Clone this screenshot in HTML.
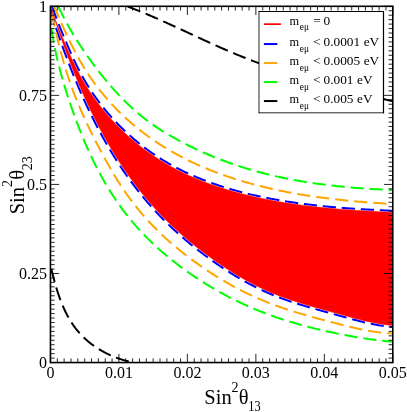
<!DOCTYPE html>
<html><head><meta charset="utf-8"><style>html,body{margin:0;padding:0;background:#fff}body{width:407px;height:412px;overflow:hidden;position:relative}</style></head>
<body><svg width="407" height="412" viewBox="0 0 407 412" style="position:absolute;left:0;top:0;will-change:transform"><defs><clipPath id="c"><rect x="50.45" y="6.3" width="342.35" height="356.25"/></clipPath></defs><rect width="100%" height="100%" fill="#fff"/><g clip-path="url(#c)" fill="none" stroke-width="2"><path d="M51.92,5.81 L52.27,6.84 L52.63,7.86 L52.99,8.88 L53.35,9.90 L53.72,10.92 L54.08,11.94 L54.45,12.96 L54.83,13.98 L55.20,14.99 L55.58,16.01 L55.96,17.02 L56.34,18.04 L56.73,19.05 L57.12,20.06 L57.51,21.07 L57.90,22.09 L58.29,23.10 L58.69,24.10 L59.09,25.11 L59.49,26.12 L59.89,27.13 L60.30,28.13 L60.70,29.14 L61.11,30.15 L61.52,31.15 L61.93,32.15 L62.34,33.16 L62.76,34.16 L63.17,35.16 L63.59,36.16 L64.01,37.17 L64.43,38.17 L64.85,39.17 L65.28,40.17 L65.70,41.17 L66.13,42.17 L66.55,43.16 L66.98,44.16 L67.41,45.16 L67.84,46.16 L68.27,47.15 L68.70,48.15 L69.13,49.14 L69.57,50.14 L70.01,51.13 L70.44,52.12 L70.88,53.11 L71.33,54.10 L71.77,55.09 L72.22,56.08 L72.67,57.06 L73.12,58.05 L73.57,59.03 L74.03,60.01 L74.49,60.99 L74.96,61.97 L75.42,62.95 L75.89,63.92 L76.36,64.90 L76.84,65.87 L77.32,66.84 L77.80,67.80 L78.29,68.77 L78.78,69.73 L79.28,70.69 L79.78,71.65 L80.28,72.61 L80.79,73.56 L81.30,74.51 L81.82,75.46 L82.34,76.40 L82.87,77.35 L83.40,78.29 L83.94,79.23 L84.48,80.16 L85.02,81.09 L85.57,82.02 L86.13,82.95 L86.68,83.87 L87.25,84.80 L87.82,85.71 L88.39,86.63 L88.96,87.54 L89.55,88.45 L90.13,89.36 L90.72,90.27 L91.32,91.17 L91.91,92.07 L92.52,92.96 L93.12,93.86 L93.74,94.75 L94.35,95.64 L94.97,96.52 L95.60,97.40 L96.22,98.28 L96.86,99.16 L97.49,100.03 L98.14,100.90 L98.78,101.76 L99.43,102.63 L100.08,103.49 L100.74,104.34 L101.40,105.20 L102.07,106.05 L102.74,106.90 L103.41,107.74 L104.09,108.58 L104.77,109.42 L105.46,110.25 L106.15,111.09 L106.84,111.91 L107.54,112.74 L108.24,113.56 L108.94,114.38 L109.65,115.19 L110.37,116.01 L111.08,116.81 L111.80,117.62 L112.53,118.42 L113.26,119.22 L113.99,120.01 L114.72,120.80 L115.46,121.59 L116.21,122.38 L116.95,123.16 L117.70,123.93 L118.46,124.71 L119.22,125.48 L119.98,126.25 L120.74,127.01 L121.51,127.77 L122.28,128.52 L123.06,129.28 L123.84,130.02 L124.62,130.77 L125.41,131.51 L126.19,132.25 L126.99,132.98 L127.78,133.71 L128.58,134.44 L129.39,135.16 L130.19,135.88 L131.00,136.60 L131.82,137.31 L132.63,138.01 L133.45,138.72 L134.28,139.42 L135.10,140.11 L135.93,140.81 L136.76,141.49 L137.60,142.18 L138.44,142.86 L139.28,143.53 L140.13,144.21 L140.98,144.88 L141.83,145.54 L142.68,146.20 L143.54,146.86 L144.40,147.51 L145.27,148.16 L146.13,148.80 L147.00,149.44 L147.88,150.08 L148.75,150.71 L149.63,151.34 L150.51,151.96 L151.40,152.58 L152.29,153.20 L153.18,153.81 L154.07,154.42 L154.97,155.02 L155.87,155.62 L156.77,156.21 L157.68,156.80 L158.58,157.39 L159.49,157.97 L160.41,158.54 L161.32,159.12 L162.24,159.69 L163.16,160.25 L164.09,160.81 L165.01,161.36 L165.94,161.91 L166.88,162.46 L167.81,163.00 L168.75,163.54 L169.69,164.07 L170.63,164.60 L171.57,165.13 L172.52,165.65 L173.47,166.16 L174.42,166.67 L175.38,167.18 L176.33,167.69 L177.29,168.18 L178.25,168.68 L179.22,169.17 L180.18,169.66 L181.15,170.14 L182.12,170.62 L183.09,171.09 L184.06,171.56 L185.04,172.03 L186.02,172.49 L186.99,172.95 L187.98,173.40 L188.96,173.85 L189.94,174.30 L190.93,174.74 L191.92,175.18 L192.91,175.61 L193.90,176.04 L194.90,176.47 L195.89,176.89 L196.89,177.31 L197.89,177.73 L198.89,178.14 L199.89,178.54 L200.89,178.95 L201.90,179.35 L202.91,179.74 L203.91,180.14 L204.92,180.53 L205.94,180.91 L206.95,181.29 L207.96,181.67 L208.98,182.05 L209.99,182.42 L211.01,182.78 L212.03,183.15 L213.05,183.51 L214.07,183.87 L215.10,184.22 L216.12,184.57 L217.15,184.92 L218.17,185.26 L219.20,185.60 L220.23,185.94 L221.26,186.27 L222.29,186.60 L223.32,186.93 L224.35,187.25 L225.39,187.57 L226.42,187.89 L227.46,188.21 L228.50,188.52 L229.54,188.83 L230.57,189.13 L231.61,189.43 L232.66,189.73 L233.70,190.03 L234.74,190.32 L235.78,190.61 L236.83,190.90 L237.87,191.18 L238.92,191.46 L239.97,191.74 L241.01,192.02 L242.06,192.29 L243.11,192.56 L244.16,192.83 L245.21,193.09 L246.26,193.35 L247.32,193.61 L248.37,193.87 L249.42,194.12 L250.48,194.37 L251.53,194.62 L252.59,194.86 L253.64,195.11 L254.70,195.35 L255.76,195.58 L256.82,195.82 L257.87,196.05 L258.93,196.28 L259.99,196.51 L261.05,196.74 L262.11,196.96 L263.18,197.18 L264.24,197.40 L265.30,197.61 L266.36,197.82 L267.43,198.04 L268.49,198.24 L269.55,198.45 L270.62,198.65 L271.68,198.86 L272.75,199.06 L273.82,199.25 L274.88,199.45 L275.95,199.64 L277.02,199.83 L278.09,200.02 L279.15,200.21 L280.22,200.39 L281.29,200.57 L282.36,200.75 L283.43,200.93 L284.50,201.10 L285.57,201.28 L286.64,201.45 L287.71,201.62 L288.79,201.79 L289.86,201.95 L290.93,202.11 L292.00,202.27 L293.07,202.43 L294.15,202.59 L295.22,202.75 L296.30,202.90 L297.37,203.05 L298.44,203.20 L299.52,203.35 L300.59,203.49 L301.67,203.64 L302.74,203.78 L303.82,203.92 L304.90,204.06 L305.97,204.20 L307.05,204.33 L308.13,204.46 L309.20,204.60 L310.28,204.73 L311.36,204.85 L312.43,204.98 L313.51,205.10 L314.59,205.23 L315.67,205.35 L316.75,205.47 L317.83,205.59 L318.91,205.70 L319.98,205.82 L321.06,205.93 L322.14,206.04 L323.22,206.15 L324.30,206.26 L325.38,206.37 L326.46,206.47 L327.54,206.58 L328.62,206.68 L329.70,206.78 L330.79,206.88 L331.87,206.98 L332.95,207.08 L334.03,207.17 L335.11,207.27 L336.19,207.36 L337.27,207.45 L338.36,207.54 L339.44,207.63 L340.52,207.72 L341.60,207.81 L342.68,207.89 L343.77,207.98 L344.85,208.06 L345.93,208.14 L347.01,208.22 L348.10,208.30 L349.18,208.38 L350.26,208.46 L351.35,208.53 L352.43,208.61 L353.51,208.68 L354.60,208.76 L355.68,208.83 L356.76,208.90 L357.85,208.97 L358.93,209.04 L360.02,209.11 L361.10,209.17 L362.18,209.24 L363.27,209.31 L364.35,209.37 L365.44,209.43 L366.52,209.50 L367.61,209.56 L368.69,209.62 L369.78,209.68 L370.86,209.74 L371.94,209.80 L373.03,209.86 L374.11,209.92 L375.20,209.97 L376.28,210.03 L377.37,210.08 L378.45,210.14 L379.54,210.19 L380.63,210.25 L381.71,210.30 L382.80,210.35 L383.88,210.41 L384.97,210.46 L386.05,210.51 L387.14,210.56 L388.22,210.61 L389.31,210.66 L390.39,210.71 L391.48,210.75 L392.57,210.80" stroke="#00f" stroke-dasharray="13.2 5.84" stroke-dashoffset="-0.41" /><path d="M49.07,6.76 L49.45,7.95 L49.83,9.14 L50.22,10.34 L50.60,11.53 L50.99,12.73 L51.37,13.92 L51.76,15.11 L52.15,16.30 L52.54,17.50 L52.93,18.69 L53.32,19.88 L53.71,21.07 L54.11,22.26 L54.51,23.45 L54.90,24.64 L55.30,25.83 L55.70,27.02 L56.10,28.21 L56.51,29.40 L56.91,30.58 L57.32,31.77 L57.73,32.96 L58.13,34.14 L58.55,35.33 L58.96,36.51 L59.37,37.70 L59.79,38.88 L60.20,40.07 L60.62,41.25 L61.04,42.43 L61.46,43.61 L61.88,44.79 L62.31,45.98 L62.74,47.16 L63.16,48.33 L63.59,49.51 L64.02,50.69 L64.46,51.87 L64.89,53.05 L65.33,54.22 L65.77,55.40 L66.21,56.58 L66.65,57.75 L67.09,58.92 L67.54,60.10 L67.99,61.27 L68.43,62.44 L68.89,63.61 L69.34,64.78 L69.79,65.95 L70.25,67.12 L70.71,68.29 L71.17,69.46 L71.63,70.63 L72.10,71.79 L72.56,72.96 L73.03,74.12 L73.50,75.28 L73.98,76.45 L74.45,77.61 L74.93,78.77 L75.41,79.93 L75.89,81.09 L76.37,82.25 L76.86,83.41 L77.35,84.56 L77.84,85.72 L78.33,86.88 L78.82,88.03 L79.32,89.18 L79.82,90.33 L80.32,91.49 L80.82,92.64 L81.33,93.79 L81.84,94.93 L82.35,96.08 L82.86,97.23 L83.38,98.37 L83.89,99.52 L84.41,100.66 L84.94,101.80 L85.46,102.94 L85.99,104.08 L86.52,105.22 L87.05,106.36 L87.59,107.50 L88.12,108.63 L88.66,109.76 L89.21,110.90 L89.75,112.03 L90.30,113.16 L90.85,114.29 L91.40,115.42 L91.96,116.54 L92.52,117.67 L93.08,118.79 L93.64,119.92 L94.21,121.04 L94.78,122.16 L95.35,123.28 L95.92,124.39 L96.50,125.51 L97.08,126.62 L97.66,127.74 L98.25,128.85 L98.84,129.96 L99.43,131.07 L100.02,132.17 L100.62,133.28 L101.22,134.38 L101.82,135.49 L102.43,136.59 L103.04,137.69 L103.65,138.79 L104.27,139.88 L104.88,140.98 L105.50,142.07 L106.13,143.16 L106.75,144.25 L107.38,145.34 L108.02,146.42 L108.65,147.51 L109.29,148.59 L109.94,149.67 L110.58,150.75 L111.23,151.83 L111.88,152.90 L112.54,153.97 L113.19,155.04 L113.85,156.11 L114.52,157.18 L115.19,158.25 L115.86,159.31 L116.53,160.37 L117.21,161.43 L117.89,162.49 L118.57,163.54 L119.26,164.60 L119.95,165.65 L120.65,166.69 L121.34,167.74 L122.04,168.79 L122.75,169.83 L123.45,170.87 L124.17,171.91 L124.88,172.94 L125.60,173.97 L126.32,175.00 L127.04,176.03 L127.77,177.06 L128.50,178.08 L129.24,179.10 L129.97,180.12 L130.72,181.14 L131.46,182.15 L132.21,183.16 L132.96,184.17 L133.72,185.17 L134.48,186.18 L135.24,187.18 L136.00,188.18 L136.77,189.17 L137.55,190.16 L138.32,191.15 L139.10,192.14 L139.89,193.12 L140.68,194.11 L141.47,195.08 L142.26,196.06 L143.06,197.03 L143.86,198.00 L144.67,198.97 L145.48,199.93 L146.29,200.89 L147.11,201.85 L147.93,202.80 L148.75,203.76 L149.58,204.70 L150.41,205.65 L151.24,206.59 L152.08,207.53 L152.92,208.47 L153.77,209.40 L154.62,210.33 L155.47,211.25 L156.32,212.18 L157.18,213.10 L158.05,214.01 L158.91,214.92 L159.78,215.83 L160.66,216.74 L161.54,217.64 L162.42,218.54 L163.30,219.43 L164.19,220.33 L165.08,221.21 L165.98,222.10 L166.87,222.98 L167.77,223.86 L168.68,224.73 L169.59,225.61 L170.50,226.47 L171.41,227.34 L172.33,228.20 L173.25,229.06 L174.17,229.91 L175.10,230.76 L176.03,231.61 L176.96,232.46 L177.89,233.30 L178.83,234.14 L179.77,234.97 L180.72,235.80 L181.66,236.63 L182.61,237.46 L183.56,238.28 L184.52,239.10 L185.48,239.91 L186.44,240.72 L187.40,241.53 L188.37,242.34 L189.33,243.14 L190.31,243.94 L191.28,244.74 L192.26,245.53 L193.23,246.32 L194.22,247.11 L195.20,247.89 L196.19,248.67 L197.18,249.45 L198.17,250.22 L199.16,250.99 L200.16,251.76 L201.15,252.52 L202.16,253.28 L203.16,254.04 L204.16,254.79 L205.17,255.55 L206.18,256.29 L207.20,257.04 L208.21,257.78 L209.23,258.52 L210.25,259.26 L211.27,259.99 L212.29,260.72 L213.32,261.45 L214.35,262.17 L215.38,262.89 L216.41,263.61 L217.44,264.32 L218.48,265.03 L219.52,265.74 L220.56,266.45 L221.61,267.15 L222.65,267.85 L223.70,268.54 L224.75,269.23 L225.81,269.92 L226.86,270.60 L227.92,271.28 L228.98,271.96 L230.05,272.63 L231.11,273.30 L232.18,273.96 L233.25,274.62 L234.33,275.28 L235.40,275.93 L236.48,276.58 L237.56,277.22 L238.65,277.86 L239.73,278.50 L240.82,279.13 L241.91,279.75 L243.01,280.38 L244.11,280.99 L245.21,281.61 L246.31,282.21 L247.41,282.82 L248.52,283.42 L249.63,284.01 L250.75,284.60 L251.86,285.18 L252.98,285.76 L254.10,286.33 L255.23,286.90 L256.35,287.46 L257.48,288.02 L258.62,288.57 L259.75,289.12 L260.89,289.66 L262.03,290.20 L263.17,290.73 L264.32,291.25 L265.47,291.77 L266.62,292.29 L267.77,292.79 L268.93,293.30 L270.09,293.79 L271.25,294.28 L272.41,294.76 L273.58,295.24 L274.75,295.71 L275.92,296.18 L277.09,296.64 L278.27,297.09 L279.44,297.54 L280.62,297.98 L281.80,298.42 L282.99,298.85 L284.17,299.28 L285.36,299.70 L286.55,300.12 L287.73,300.53 L288.93,300.94 L290.12,301.34 L291.31,301.74 L292.50,302.13 L293.70,302.53 L294.90,302.91 L296.09,303.30 L297.29,303.67 L298.49,304.05 L299.69,304.42 L300.89,304.79 L302.09,305.16 L303.30,305.52 L304.50,305.88 L305.70,306.24 L306.91,306.60 L308.11,306.95 L309.32,307.30 L310.52,307.65 L311.73,308.00 L312.94,308.34 L314.14,308.68 L315.35,309.02 L316.56,309.36 L317.77,309.70 L318.98,310.04 L320.18,310.37 L321.39,310.71 L322.60,311.04 L323.81,311.38 L325.02,311.71 L326.22,312.04 L327.43,312.37 L328.64,312.71 L329.85,313.04 L331.06,313.37 L332.26,313.70 L333.47,314.04 L334.68,314.37 L335.88,314.70 L337.09,315.04 L338.30,315.37 L339.50,315.71 L340.71,316.04 L341.92,316.38 L343.12,316.72 L344.33,317.05 L345.54,317.39 L346.75,317.72 L347.96,318.05 L349.17,318.39 L350.38,318.72 L351.59,319.04 L352.80,319.37 L354.02,319.69 L355.23,320.01 L356.45,320.33 L357.67,320.65 L358.88,320.96 L360.10,321.26 L361.32,321.56 L362.55,321.86 L363.77,322.16 L365.00,322.44 L366.22,322.73 L367.45,323.00 L368.68,323.28 L369.92,323.54 L371.15,323.80 L372.38,324.05 L373.62,324.30 L374.86,324.54 L376.10,324.77 L377.34,324.99 L378.59,325.21 L379.83,325.42 L381.08,325.62 L382.33,325.81 L383.58,325.99 L384.83,326.16 L386.08,326.33 L387.34,326.48 L388.60,326.62 L389.85,326.76 L391.11,326.88 L392.37,326.99" stroke="#00f" stroke-dasharray="13.2 5.86" stroke-dashoffset="-3.16" /><path d="M54.20,6.60 L55.04,8.54 L55.87,10.47 L56.71,12.41 L57.55,14.34 L58.39,16.27 L59.24,18.21 L60.08,20.14 L60.93,22.07 L61.79,24.00 L62.65,25.92 L63.51,27.84 L64.38,29.76 L65.26,31.68 L66.14,33.60 L67.03,35.51 L67.93,37.42 L68.84,39.32 L69.75,41.22 L70.68,43.12 L71.61,45.01 L72.56,46.89 L73.51,48.77 L74.48,50.65 L75.46,52.51 L76.45,54.37 L77.45,56.23 L78.47,58.08 L79.50,59.92 L80.54,61.75 L81.60,63.57 L82.68,65.39 L83.77,67.19 L84.87,68.99 L85.99,70.77 L87.13,72.55 L88.28,74.32 L89.46,76.07 L90.64,77.81 L91.85,79.54 L93.07,81.26 L94.30,82.97 L95.56,84.67 L96.82,86.35 L98.11,88.03 L99.40,89.69 L100.72,91.34 L102.05,92.98 L103.39,94.60 L104.75,96.22 L106.12,97.82 L107.50,99.41 L108.90,100.99 L110.31,102.55 L111.74,104.10 L113.18,105.65 L114.63,107.17 L116.10,108.69 L117.58,110.19 L119.07,111.68 L120.57,113.16 L122.09,114.63 L123.62,116.08 L125.16,117.52 L126.72,118.94 L128.28,120.35 L129.86,121.75 L131.45,123.14 L133.05,124.51 L134.66,125.87 L136.29,127.21 L137.92,128.54 L139.57,129.86 L141.23,131.16 L142.90,132.45 L144.58,133.72 L146.27,134.98 L147.97,136.23 L149.68,137.46 L151.41,138.68 L153.14,139.88 L154.88,141.07 L156.63,142.24 L158.39,143.40 L160.16,144.55 L161.94,145.68 L163.73,146.80 L165.53,147.90 L167.33,148.99 L169.15,150.07 L170.97,151.13 L172.80,152.18 L174.64,153.21 L176.48,154.23 L178.33,155.24 L180.19,156.23 L182.06,157.21 L183.94,158.18 L185.82,159.13 L187.71,160.07 L189.60,160.99 L191.50,161.91 L193.41,162.81 L195.32,163.69 L197.24,164.56 L199.17,165.43 L201.10,166.27 L203.03,167.11 L204.98,167.93 L206.92,168.74 L208.88,169.54 L210.83,170.32 L212.79,171.10 L214.76,171.86 L216.73,172.61 L218.71,173.34 L220.69,174.07 L222.67,174.78 L224.66,175.49 L226.65,176.18 L228.65,176.86 L230.65,177.53 L232.65,178.18 L234.66,178.83 L236.67,179.47 L238.68,180.09 L240.70,180.70 L242.72,181.31 L244.75,181.90 L246.77,182.49 L248.80,183.06 L250.83,183.62 L252.87,184.17 L254.91,184.72 L256.95,185.25 L258.99,185.77 L261.03,186.29 L263.08,186.79 L265.13,187.29 L267.18,187.77 L269.24,188.25 L271.29,188.72 L273.35,189.18 L275.41,189.63 L277.47,190.07 L279.54,190.50 L281.60,190.93 L283.67,191.35 L285.74,191.75 L287.81,192.15 L289.88,192.55 L291.95,192.93 L294.03,193.31 L296.11,193.68 L298.18,194.04 L300.26,194.39 L302.34,194.74 L304.42,195.08 L306.51,195.41 L308.59,195.73 L310.67,196.05 L312.76,196.36 L314.85,196.67 L316.93,196.96 L319.02,197.25 L321.11,197.54 L323.20,197.82 L325.29,198.09 L327.39,198.35 L329.48,198.61 L331.57,198.87 L333.67,199.11 L335.76,199.35 L337.86,199.59 L339.95,199.82 L342.05,200.05 L344.15,200.26 L346.24,200.48 L348.34,200.69 L350.44,200.89 L352.54,201.09 L354.64,201.28 L356.74,201.47 L358.84,201.65 L360.94,201.83 L363.04,202.00 L365.15,202.17 L367.25,202.34 L369.35,202.50 L371.45,202.65 L373.56,202.81 L375.66,202.95 L377.77,203.10 L379.87,203.24 L381.97,203.37 L384.08,203.51 L386.18,203.64 L388.29,203.76 L390.39,203.88 L392.50,204.00" stroke="#ffa500" stroke-dasharray="13.2 5.92" stroke-dashoffset="1.18" /><path d="M50.70,8.00 L51.22,10.52 L51.74,13.04 L52.27,15.55 L52.81,18.07 L53.35,20.58 L53.90,23.09 L54.45,25.60 L55.01,28.11 L55.58,30.62 L56.16,33.13 L56.75,35.63 L57.34,38.13 L57.95,40.63 L58.56,43.13 L59.19,45.62 L59.82,48.11 L60.47,50.60 L61.13,53.09 L61.80,55.57 L62.48,58.05 L63.18,60.52 L63.89,62.99 L64.61,65.46 L65.35,67.92 L66.10,70.38 L66.86,72.84 L67.65,75.29 L68.44,77.73 L69.26,80.17 L70.09,82.60 L70.94,85.03 L71.80,87.45 L72.69,89.87 L73.59,92.28 L74.51,94.68 L75.44,97.07 L76.39,99.46 L77.36,101.84 L78.34,104.22 L79.34,106.59 L80.35,108.95 L81.38,111.31 L82.42,113.66 L83.47,116.01 L84.53,118.35 L85.61,120.68 L86.70,123.01 L87.80,125.34 L88.91,127.65 L90.04,129.97 L91.17,132.28 L92.31,134.58 L93.47,136.88 L94.63,139.17 L95.80,141.46 L96.98,143.75 L98.16,146.03 L99.36,148.30 L100.56,150.58 L101.77,152.85 L102.98,155.11 L104.21,157.37 L105.44,159.63 L106.69,161.88 L107.94,164.12 L109.21,166.36 L110.49,168.59 L111.78,170.82 L113.08,173.03 L114.40,175.24 L115.73,177.44 L117.08,179.63 L118.44,181.81 L119.82,183.98 L121.22,186.14 L122.63,188.28 L124.07,190.42 L125.52,192.54 L126.99,194.65 L128.48,196.75 L129.99,198.83 L131.52,200.89 L133.08,202.94 L134.65,204.97 L136.25,206.99 L137.86,208.99 L139.50,210.97 L141.16,212.94 L142.84,214.89 L144.53,216.82 L146.25,218.73 L147.98,220.63 L149.73,222.52 L151.50,224.38 L153.29,226.23 L155.09,228.06 L156.91,229.88 L158.74,231.68 L160.60,233.47 L162.46,235.23 L164.35,236.99 L166.24,238.72 L168.15,240.44 L170.08,242.14 L172.02,243.83 L173.97,245.50 L175.94,247.16 L177.92,248.80 L179.91,250.43 L181.91,252.04 L183.93,253.63 L185.96,255.22 L188.00,256.78 L190.05,258.33 L192.11,259.87 L194.18,261.39 L196.27,262.90 L198.36,264.39 L200.46,265.87 L202.58,267.33 L204.70,268.78 L206.83,270.22 L208.98,271.64 L211.13,273.05 L213.29,274.44 L215.46,275.82 L217.64,277.18 L219.83,278.53 L222.03,279.86 L224.24,281.17 L226.46,282.47 L228.69,283.74 L230.93,285.01 L233.18,286.25 L235.44,287.48 L237.71,288.69 L239.99,289.88 L242.28,291.05 L244.58,292.20 L246.89,293.33 L249.21,294.44 L251.54,295.53 L253.87,296.61 L256.22,297.66 L258.58,298.69 L260.94,299.69 L263.32,300.68 L265.70,301.65 L268.09,302.59 L270.49,303.52 L272.89,304.43 L275.31,305.32 L277.72,306.19 L280.15,307.05 L282.58,307.89 L285.02,308.71 L287.46,309.52 L289.90,310.31 L292.35,311.09 L294.81,311.86 L297.26,312.62 L299.72,313.36 L302.19,314.09 L304.66,314.81 L307.13,315.53 L309.60,316.23 L312.08,316.92 L314.56,317.61 L317.04,318.29 L319.52,318.96 L322.00,319.62 L324.49,320.29 L326.97,320.94 L329.46,321.59 L331.95,322.24 L334.44,322.89 L336.93,323.53 L339.42,324.17 L341.91,324.81 L344.40,325.44 L346.89,326.06 L349.39,326.68 L351.89,327.28 L354.39,327.87 L356.90,328.44 L359.41,328.99 L361.93,329.52 L364.45,330.02 L366.98,330.50 L369.51,330.95 L372.04,331.38 L374.59,331.77 L377.13,332.12 L379.68,332.44 L382.24,332.72 L384.80,332.95 L387.36,333.15 L389.93,333.30 L392.50,333.40" stroke="#ffa500" stroke-dasharray="13.2 6.06" stroke-dashoffset="-5.7" /><path d="M58.30,6.60 L59.18,8.43 L60.08,10.26 L60.98,12.08 L61.90,13.89 L62.83,15.70 L63.77,17.50 L64.72,19.30 L65.68,21.09 L66.65,22.88 L67.63,24.65 L68.63,26.43 L69.64,28.19 L70.65,29.95 L71.68,31.71 L72.71,33.46 L73.76,35.20 L74.82,36.94 L75.89,38.67 L76.96,40.39 L78.05,42.11 L79.15,43.82 L80.25,45.53 L81.37,47.23 L82.49,48.92 L83.63,50.61 L84.77,52.29 L85.92,53.96 L87.08,55.63 L88.25,57.29 L89.43,58.95 L90.62,60.60 L91.82,62.24 L93.02,63.88 L94.23,65.51 L95.46,67.14 L96.68,68.75 L97.92,70.37 L99.17,71.97 L100.42,73.57 L101.69,75.16 L102.96,76.75 L104.24,78.33 L105.53,79.90 L106.83,81.46 L108.14,83.01 L109.46,84.56 L110.79,86.10 L112.13,87.62 L113.49,89.14 L114.85,90.65 L116.22,92.15 L117.60,93.64 L118.99,95.12 L120.40,96.59 L121.81,98.05 L123.24,99.50 L124.68,100.94 L126.13,102.36 L127.59,103.78 L129.06,105.18 L130.55,106.57 L132.04,107.94 L133.55,109.31 L135.07,110.65 L136.60,111.99 L138.15,113.31 L139.71,114.62 L141.27,115.91 L142.86,117.19 L144.45,118.45 L146.06,119.70 L147.68,120.92 L149.31,122.14 L150.95,123.33 L152.61,124.51 L154.27,125.67 L155.95,126.82 L157.64,127.95 L159.35,129.06 L161.06,130.16 L162.78,131.24 L164.51,132.31 L166.25,133.36 L167.99,134.40 L169.75,135.43 L171.51,136.45 L173.28,137.45 L175.05,138.44 L176.83,139.42 L178.62,140.39 L180.41,141.35 L182.21,142.30 L184.01,143.23 L185.82,144.16 L187.64,145.08 L189.46,145.98 L191.28,146.88 L193.11,147.76 L194.95,148.64 L196.79,149.50 L198.63,150.35 L200.48,151.20 L202.34,152.03 L204.19,152.85 L206.06,153.66 L207.93,154.47 L209.80,155.26 L211.67,156.04 L213.56,156.81 L215.44,157.57 L217.33,158.33 L219.22,159.07 L221.12,159.80 L223.02,160.52 L224.92,161.23 L226.83,161.93 L228.74,162.62 L230.66,163.30 L232.58,163.97 L234.50,164.63 L236.43,165.28 L238.36,165.92 L240.29,166.55 L242.23,167.17 L244.16,167.78 L246.11,168.38 L248.05,168.97 L250.00,169.55 L251.95,170.12 L253.91,170.67 L255.87,171.22 L257.83,171.76 L259.79,172.29 L261.75,172.81 L263.72,173.32 L265.69,173.82 L267.66,174.31 L269.64,174.79 L271.62,175.26 L273.60,175.73 L275.58,176.18 L277.56,176.62 L279.55,177.06 L281.53,177.48 L283.52,177.90 L285.52,178.31 L287.51,178.71 L289.50,179.10 L291.50,179.49 L293.50,179.86 L295.50,180.23 L297.50,180.59 L299.50,180.94 L301.50,181.28 L303.51,181.62 L305.51,181.94 L307.52,182.26 L309.53,182.58 L311.54,182.88 L313.55,183.18 L315.56,183.47 L317.58,183.75 L319.59,184.03 L321.61,184.30 L323.62,184.56 L325.64,184.81 L327.66,185.06 L329.67,185.30 L331.69,185.54 L333.71,185.77 L335.73,185.99 L337.76,186.21 L339.78,186.42 L341.80,186.62 L343.82,186.82 L345.85,187.01 L347.87,187.20 L349.90,187.38 L351.92,187.55 L353.95,187.72 L355.97,187.89 L358.00,188.04 L360.03,188.20 L362.05,188.35 L364.08,188.49 L366.11,188.63 L368.14,188.76 L370.17,188.89 L372.20,189.01 L374.23,189.13 L376.26,189.24 L378.28,189.35 L380.32,189.46 L382.35,189.56 L384.38,189.66 L386.41,189.75 L388.44,189.84 L390.47,189.92 L392.50,190.00" stroke="#0f0" stroke-dasharray="13.2 5.88" stroke-dashoffset="0.03" /><path d="M50.60,20.00 L50.88,22.57 L51.18,25.13 L51.50,27.70 L51.85,30.26 L52.22,32.82 L52.61,35.37 L53.02,37.92 L53.46,40.47 L53.92,43.01 L54.39,45.55 L54.89,48.08 L55.40,50.62 L55.94,53.14 L56.49,55.67 L57.07,58.19 L57.65,60.70 L58.26,63.21 L58.89,65.72 L59.53,68.22 L60.18,70.72 L60.85,73.22 L61.54,75.71 L62.24,78.20 L62.96,80.68 L63.68,83.16 L64.43,85.63 L65.18,88.10 L65.95,90.57 L66.72,93.03 L67.51,95.49 L68.31,97.95 L69.12,100.40 L69.94,102.85 L70.77,105.30 L71.61,107.75 L72.46,110.19 L73.32,112.62 L74.19,115.05 L75.07,117.48 L75.97,119.91 L76.87,122.33 L77.79,124.74 L78.71,127.15 L79.65,129.56 L80.61,131.96 L81.57,134.36 L82.55,136.75 L83.54,139.14 L84.55,141.52 L85.57,143.89 L86.60,146.26 L87.65,148.62 L88.71,150.98 L89.78,153.32 L90.88,155.67 L91.98,158.00 L93.11,160.33 L94.24,162.65 L95.40,164.96 L96.57,167.26 L97.76,169.56 L98.96,171.84 L100.18,174.12 L101.42,176.39 L102.68,178.64 L103.95,180.89 L105.25,183.13 L106.56,185.35 L107.89,187.57 L109.23,189.77 L110.60,191.97 L111.99,194.15 L113.39,196.31 L114.82,198.47 L116.26,200.61 L117.73,202.74 L119.21,204.85 L120.72,206.95 L122.24,209.04 L123.79,211.11 L125.35,213.17 L126.94,215.20 L128.55,217.23 L130.18,219.23 L131.83,221.22 L133.50,223.19 L135.19,225.15 L136.90,227.08 L138.63,229.00 L140.37,230.90 L142.14,232.79 L143.93,234.66 L145.73,236.51 L147.55,238.34 L149.39,240.16 L151.24,241.96 L153.11,243.74 L155.00,245.51 L156.90,247.26 L158.81,248.99 L160.75,250.70 L162.69,252.40 L164.66,254.08 L166.63,255.75 L168.62,257.40 L170.62,259.03 L172.64,260.64 L174.67,262.24 L176.71,263.82 L178.77,265.39 L180.83,266.94 L182.91,268.47 L185.00,269.99 L187.11,271.49 L189.22,272.98 L191.35,274.45 L193.48,275.90 L195.63,277.34 L197.78,278.76 L199.95,280.17 L202.13,281.56 L204.31,282.94 L206.51,284.30 L208.72,285.64 L210.93,286.97 L213.16,288.29 L215.39,289.58 L217.64,290.86 L219.89,292.13 L222.15,293.38 L224.42,294.61 L226.70,295.83 L228.99,297.02 L231.29,298.21 L233.59,299.37 L235.91,300.52 L238.23,301.65 L240.56,302.76 L242.90,303.86 L245.25,304.94 L247.61,306.00 L249.97,307.04 L252.34,308.07 L254.72,309.07 L257.11,310.06 L259.50,311.03 L261.90,311.99 L264.31,312.92 L266.73,313.84 L269.15,314.74 L271.58,315.62 L274.01,316.49 L276.45,317.34 L278.90,318.17 L281.35,318.98 L283.81,319.79 L286.27,320.57 L288.73,321.34 L291.21,322.09 L293.68,322.83 L296.16,323.56 L298.65,324.27 L301.13,324.96 L303.63,325.64 L306.12,326.31 L308.62,326.97 L311.12,327.61 L313.63,328.24 L316.14,328.85 L318.65,329.46 L321.17,330.05 L323.68,330.63 L326.20,331.19 L328.73,331.75 L331.25,332.30 L333.78,332.83 L336.31,333.36 L338.84,333.87 L341.38,334.37 L343.91,334.87 L346.45,335.35 L348.99,335.82 L351.53,336.28 L354.08,336.72 L356.63,337.16 L359.18,337.58 L361.73,337.98 L364.28,338.38 L366.84,338.76 L369.39,339.12 L371.95,339.47 L374.51,339.81 L377.08,340.13 L379.64,340.43 L382.21,340.72 L384.78,340.99 L387.35,341.24 L389.93,341.48 L392.50,341.70" stroke="#0f0" stroke-dasharray="13.2 5.82" stroke-dashoffset="-9.27" /><path d="M50.50,6.30 L50.85,7.33 L51.21,8.35 L51.57,9.38 L51.94,10.41 L52.30,11.43 L52.67,12.45 L53.05,13.47 L53.42,14.49 L53.80,15.51 L54.18,16.53 L54.56,17.55 L54.94,18.57 L55.33,19.59 L55.72,20.60 L56.11,21.62 L56.50,22.63 L56.90,23.64 L57.30,24.65 L57.70,25.67 L58.10,26.68 L58.50,27.69 L58.91,28.70 L59.31,29.70 L59.72,30.71 L60.13,31.72 L60.54,32.72 L60.96,33.73 L61.37,34.73 L61.79,35.74 L62.21,36.74 L62.63,37.75 L63.05,38.75 L63.47,39.75 L63.89,40.75 L64.32,41.75 L64.75,42.75 L65.17,43.75 L65.60,44.75 L66.03,45.75 L66.46,46.75 L66.89,47.75 L67.32,48.75 L67.76,49.74 L68.20,50.74 L68.63,51.73 L69.07,52.73 L69.51,53.72 L69.96,54.72 L70.40,55.71 L70.85,56.70 L71.30,57.69 L71.76,58.68 L72.21,59.66 L72.67,60.65 L73.14,61.63 L73.60,62.62 L74.07,63.60 L74.54,64.58 L75.02,65.55 L75.49,66.53 L75.98,67.51 L76.46,68.48 L76.95,69.45 L77.45,70.42 L77.95,71.38 L78.45,72.35 L78.96,73.31 L79.47,74.27 L79.98,75.23 L80.51,76.18 L81.03,77.13 L81.56,78.08 L82.10,79.03 L82.64,79.97 L83.18,80.91 L83.73,81.85 L84.28,82.79 L84.84,83.72 L85.40,84.65 L85.97,85.58 L86.54,86.51 L87.12,87.43 L87.70,88.35 L88.28,89.26 L88.87,90.18 L89.47,91.09 L90.06,92.00 L90.67,92.90 L91.27,93.80 L91.89,94.70 L92.50,95.60 L93.12,96.49 L93.75,97.38 L94.37,98.27 L95.01,99.16 L95.64,100.04 L96.28,100.92 L96.93,101.79 L97.58,102.66 L98.23,103.53 L98.89,104.40 L99.55,105.26 L100.22,106.12 L100.89,106.98 L101.56,107.83 L102.24,108.68 L102.92,109.53 L103.61,110.37 L104.30,111.21 L104.99,112.05 L105.69,112.88 L106.39,113.71 L107.10,114.54 L107.81,115.36 L108.52,116.18 L109.24,117.00 L109.96,117.81 L110.69,118.62 L111.42,119.43 L112.15,120.23 L112.89,121.03 L113.63,121.83 L114.37,122.62 L115.12,123.41 L115.87,124.20 L116.63,124.98 L117.39,125.76 L118.15,126.53 L118.92,127.30 L119.68,128.07 L120.46,128.84 L121.24,129.60 L122.02,130.35 L122.80,131.11 L123.59,131.86 L124.38,132.60 L125.17,133.35 L125.97,134.09 L126.77,134.82 L127.58,135.55 L128.39,136.28 L129.20,137.00 L130.01,137.72 L130.83,138.44 L131.65,139.15 L132.48,139.86 L133.31,140.56 L134.14,141.26 L134.97,141.96 L135.81,142.65 L136.65,143.34 L137.50,144.03 L138.35,144.71 L139.20,145.38 L140.05,146.06 L140.91,146.73 L141.77,147.39 L142.63,148.05 L143.50,148.71 L144.37,149.36 L145.24,150.01 L146.12,150.65 L147.00,151.29 L147.88,151.93 L148.76,152.56 L149.65,153.19 L150.54,153.81 L151.44,154.43 L152.33,155.05 L153.23,155.66 L154.13,156.26 L155.04,156.87 L155.95,157.47 L156.86,158.06 L157.77,158.65 L158.69,159.23 L159.61,159.81 L160.53,160.39 L161.46,160.96 L162.38,161.53 L163.31,162.09 L164.25,162.65 L165.18,163.21 L166.12,163.76 L167.06,164.30 L168.00,164.84 L168.95,165.38 L169.90,165.91 L170.85,166.44 L171.80,166.96 L172.76,167.48 L173.71,168.00 L174.67,168.51 L175.64,169.01 L176.60,169.52 L177.57,170.01 L178.54,170.51 L179.51,171.00 L180.48,171.48 L181.46,171.96 L182.43,172.44 L183.41,172.91 L184.39,173.38 L185.38,173.85 L186.36,174.31 L187.35,174.76 L188.34,175.22 L189.33,175.67 L190.32,176.11 L191.32,176.55 L192.31,176.99 L193.31,177.42 L194.31,177.85 L195.31,178.27 L196.31,178.69 L197.32,179.11 L198.32,179.53 L199.33,179.93 L200.34,180.34 L201.35,180.74 L202.36,181.14 L203.37,181.54 L204.39,181.93 L205.40,182.31 L206.42,182.70 L207.44,183.08 L208.46,183.45 L209.48,183.83 L210.50,184.20 L211.53,184.56 L212.55,184.92 L213.58,185.28 L214.61,185.64 L215.64,185.99 L216.67,186.34 L217.70,186.68 L218.73,187.03 L219.76,187.37 L220.80,187.70 L221.83,188.03 L222.87,188.36 L223.91,188.69 L224.95,189.01 L225.99,189.33 L227.03,189.64 L228.07,189.96 L229.11,190.26 L230.15,190.57 L231.20,190.87 L232.24,191.17 L233.29,191.47 L234.34,191.77 L235.38,192.06 L236.43,192.35 L237.48,192.63 L238.53,192.91 L239.58,193.19 L240.63,193.47 L241.69,193.74 L242.74,194.01 L243.79,194.28 L244.85,194.55 L245.90,194.81 L246.96,195.07 L248.02,195.33 L249.07,195.58 L250.13,195.83 L251.19,196.08 L252.25,196.33 L253.31,196.57 L254.37,196.81 L255.43,197.05 L256.49,197.28 L257.55,197.52 L258.62,197.75 L259.68,197.98 L260.74,198.20 L261.81,198.43 L262.87,198.65 L263.94,198.87 L265.00,199.08 L266.07,199.30 L267.14,199.51 L268.20,199.72 L269.27,199.92 L270.34,200.13 L271.41,200.33 L272.48,200.53 L273.55,200.73 L274.62,200.92 L275.69,201.12 L276.76,201.31 L277.83,201.50 L278.90,201.68 L279.97,201.87 L281.04,202.05 L282.11,202.23 L283.19,202.41 L284.26,202.58 L285.33,202.76 L286.41,202.93 L287.48,203.10 L288.56,203.27 L289.63,203.43 L290.70,203.60 L291.78,203.76 L292.86,203.92 L293.93,204.08 L295.01,204.23 L296.08,204.39 L297.16,204.54 L298.24,204.69 L299.32,204.84 L300.39,204.98 L301.47,205.13 L302.55,205.27 L303.63,205.41 L304.71,205.55 L305.78,205.68 L306.86,205.82 L307.94,205.95 L309.02,206.08 L310.10,206.21 L311.18,206.34 L312.26,206.47 L313.34,206.59 L314.42,206.72 L315.50,206.84 L316.58,206.96 L317.66,207.08 L318.75,207.19 L319.83,207.31 L320.91,207.42 L321.99,207.53 L323.07,207.64 L324.15,207.75 L325.24,207.86 L326.32,207.97 L327.40,208.07 L328.48,208.17 L329.57,208.27 L330.65,208.37 L331.73,208.47 L332.81,208.57 L333.90,208.67 L334.98,208.76 L336.06,208.85 L337.15,208.95 L338.23,209.04 L339.32,209.13 L340.40,209.21 L341.48,209.30 L342.57,209.39 L343.65,209.47 L344.74,209.55 L345.82,209.64 L346.90,209.72 L347.99,209.80 L349.07,209.88 L350.16,209.95 L351.24,210.03 L352.33,210.11 L353.41,210.18 L354.50,210.25 L355.58,210.32 L356.67,210.40 L357.75,210.47 L358.84,210.54 L359.92,210.60 L361.01,210.67 L362.09,210.74 L363.18,210.80 L364.26,210.87 L365.35,210.93 L366.44,211.00 L367.52,211.06 L368.61,211.12 L369.69,211.18 L370.78,211.24 L371.86,211.30 L372.95,211.36 L374.04,211.41 L375.12,211.47 L376.21,211.53 L377.29,211.58 L378.38,211.64 L379.47,211.69 L380.55,211.75 L381.64,211.80 L382.72,211.85 L383.81,211.90 L384.90,211.95 L385.98,212.01 L387.07,212.06 L388.15,212.11 L389.24,212.15 L390.33,212.20 L391.41,212.25 L392.50,212.30 L392.50,325.50 L391.25,325.39 L390.01,325.27 L388.76,325.13 L387.52,324.99 L386.27,324.84 L385.03,324.68 L383.79,324.51 L382.55,324.32 L381.31,324.14 L380.07,323.94 L378.84,323.73 L377.60,323.52 L376.37,323.30 L375.14,323.07 L373.91,322.83 L372.68,322.58 L371.45,322.33 L370.23,322.08 L369.00,321.81 L367.78,321.54 L366.56,321.26 L365.34,320.98 L364.12,320.70 L362.90,320.40 L361.68,320.11 L360.47,319.81 L359.25,319.50 L358.04,319.19 L356.82,318.88 L355.61,318.56 L354.40,318.24 L353.19,317.92 L351.98,317.60 L350.77,317.27 L349.56,316.94 L348.36,316.61 L347.15,316.28 L345.94,315.94 L344.73,315.61 L343.53,315.27 L342.32,314.93 L341.11,314.60 L339.91,314.26 L338.70,313.93 L337.49,313.59 L336.28,313.26 L335.08,312.92 L333.87,312.59 L332.66,312.26 L331.45,311.92 L330.25,311.59 L329.04,311.26 L327.83,310.93 L326.62,310.60 L325.41,310.26 L324.21,309.93 L323.00,309.60 L321.79,309.26 L320.58,308.93 L319.38,308.59 L318.17,308.26 L316.97,307.92 L315.76,307.58 L314.55,307.24 L313.35,306.90 L312.14,306.55 L310.94,306.21 L309.74,305.86 L308.53,305.51 L307.33,305.16 L306.13,304.80 L304.93,304.45 L303.73,304.09 L302.53,303.72 L301.33,303.36 L300.13,302.99 L298.94,302.62 L297.74,302.24 L296.55,301.87 L295.36,301.48 L294.16,301.10 L292.97,300.71 L291.78,300.32 L290.60,299.92 L289.41,299.52 L288.22,299.11 L287.04,298.70 L285.86,298.29 L284.68,297.87 L283.50,297.44 L282.32,297.01 L281.15,296.58 L279.97,296.14 L278.80,295.69 L277.64,295.24 L276.47,294.78 L275.30,294.32 L274.14,293.85 L272.98,293.38 L271.83,292.90 L270.67,292.41 L269.52,291.92 L268.37,291.42 L267.22,290.91 L266.08,290.40 L264.94,289.89 L263.80,289.37 L262.66,288.84 L261.53,288.31 L260.40,287.77 L259.27,287.22 L258.14,286.68 L257.02,286.12 L255.90,285.56 L254.78,285.00 L253.67,284.43 L252.55,283.85 L251.44,283.27 L250.34,282.68 L249.23,282.09 L248.13,281.50 L247.03,280.90 L245.93,280.29 L244.84,279.68 L243.75,279.07 L242.66,278.45 L241.57,277.83 L240.49,277.20 L239.41,276.57 L238.33,275.93 L237.25,275.29 L236.18,274.65 L235.11,274.00 L234.04,273.34 L232.97,272.69 L231.91,272.02 L230.84,271.36 L229.79,270.69 L228.73,270.02 L227.68,269.34 L226.62,268.66 L225.57,267.98 L224.53,267.29 L223.48,266.60 L222.44,265.90 L221.40,265.20 L220.36,264.50 L219.33,263.80 L218.29,263.09 L217.26,262.38 L216.23,261.66 L215.21,260.94 L214.18,260.22 L213.16,259.50 L212.14,258.77 L211.12,258.04 L210.11,257.31 L209.09,256.57 L208.08,255.83 L207.07,255.09 L206.07,254.34 L205.06,253.59 L204.06,252.84 L203.06,252.09 L202.06,251.33 L201.07,250.57 L200.08,249.80 L199.09,249.04 L198.10,248.26 L197.11,247.49 L196.13,246.71 L195.15,245.93 L194.17,245.15 L193.20,244.36 L192.23,243.57 L191.26,242.78 L190.29,241.98 L189.33,241.19 L188.36,240.38 L187.40,239.58 L186.45,238.77 L185.49,237.96 L184.54,237.14 L183.59,236.32 L182.65,235.50 L181.71,234.68 L180.77,233.85 L179.83,233.02 L178.89,232.18 L177.96,231.34 L177.04,230.50 L176.11,229.66 L175.19,228.81 L174.27,227.96 L173.35,227.10 L172.44,226.25 L171.53,225.39 L170.62,224.52 L169.72,223.65 L168.82,222.78 L167.92,221.91 L167.03,221.03 L166.14,220.15 L165.25,219.26 L164.37,218.38 L163.49,217.49 L162.61,216.59 L161.74,215.69 L160.87,214.79 L160.00,213.89 L159.14,212.98 L158.28,212.07 L157.42,211.15 L156.57,210.24 L155.72,209.31 L154.88,208.39 L154.03,207.46 L153.20,206.53 L152.36,205.60 L151.53,204.66 L150.70,203.72 L149.88,202.77 L149.06,201.83 L148.25,200.87 L147.43,199.92 L146.62,198.97 L145.82,198.01 L145.02,197.04 L144.22,196.08 L143.42,195.11 L142.63,194.14 L141.84,193.16 L141.06,192.19 L140.28,191.21 L139.50,190.22 L138.73,189.24 L137.96,188.25 L137.19,187.26 L136.43,186.27 L135.67,185.27 L134.91,184.27 L134.16,183.27 L133.41,182.27 L132.67,181.26 L131.93,180.25 L131.19,179.24 L130.45,178.22 L129.72,177.21 L128.99,176.19 L128.27,175.17 L127.55,174.14 L126.83,173.12 L126.11,172.09 L125.40,171.06 L124.69,170.02 L123.99,168.99 L123.29,167.95 L122.59,166.91 L121.90,165.87 L121.20,164.82 L120.52,163.77 L119.83,162.72 L119.15,161.67 L118.47,160.62 L117.80,159.56 L117.13,158.51 L116.46,157.45 L115.79,156.39 L115.13,155.32 L114.47,154.26 L113.81,153.19 L113.16,152.12 L112.51,151.05 L111.87,149.98 L111.22,148.90 L110.58,147.82 L109.95,146.75 L109.31,145.67 L108.68,144.58 L108.05,143.50 L107.43,142.41 L106.81,141.33 L106.19,140.24 L105.57,139.15 L104.96,138.05 L104.35,136.96 L103.74,135.86 L103.14,134.77 L102.54,133.67 L101.94,132.57 L101.34,131.46 L100.75,130.36 L100.16,129.25 L99.58,128.15 L98.99,127.04 L98.41,125.93 L97.83,124.82 L97.26,123.71 L96.68,122.59 L96.11,121.48 L95.55,120.36 L94.98,119.24 L94.42,118.12 L93.86,117.00 L93.30,115.88 L92.75,114.76 L92.20,113.63 L91.65,112.50 L91.10,111.38 L90.56,110.25 L90.02,109.12 L89.48,107.99 L88.94,106.86 L88.41,105.72 L87.88,104.59 L87.35,103.45 L86.82,102.31 L86.30,101.18 L85.78,100.04 L85.26,98.90 L84.74,97.76 L84.23,96.61 L83.72,95.47 L83.21,94.33 L82.70,93.18 L82.20,92.03 L81.70,90.89 L81.20,89.74 L80.70,88.59 L80.20,87.44 L79.71,86.29 L79.22,85.13 L78.73,83.98 L78.24,82.83 L77.76,81.67 L77.27,80.51 L76.79,79.36 L76.32,78.20 L75.84,77.04 L75.37,75.88 L74.89,74.72 L74.42,73.56 L73.96,72.40 L73.49,71.23 L73.03,70.07 L72.57,68.91 L72.11,67.74 L71.65,66.58 L71.19,65.41 L70.74,64.24 L70.29,63.07 L69.84,61.90 L69.39,60.73 L68.94,59.56 L68.50,58.39 L68.05,57.22 L67.61,56.05 L67.17,54.87 L66.73,53.70 L66.30,52.53 L65.86,51.35 L65.43,50.18 L65.00,49.00 L64.57,47.82 L64.15,46.64 L63.72,45.47 L63.30,44.29 L62.87,43.11 L62.45,41.93 L62.03,40.75 L61.62,39.57 L61.20,38.39 L60.79,37.20 L60.37,36.02 L59.96,34.84 L59.55,33.65 L59.14,32.47 L58.74,31.28 L58.33,30.10 L57.93,28.91 L57.53,27.73 L57.12,26.54 L56.72,25.35 L56.33,24.17 L55.93,22.98 L55.53,21.79 L55.14,20.60 L54.75,19.41 L54.35,18.22 L53.96,17.03 L53.57,15.84 L53.19,14.65 L52.80,13.46 L52.41,12.27 L52.03,11.07 L51.64,9.88 L51.26,8.69 L50.88,7.49 L50.50,6.30Z" fill="#f00" stroke="#f00" stroke-width="0.5"/><path d="M127.00,6.30 L128.33,6.80 L129.66,7.30 L130.99,7.80 L132.31,8.32 L133.64,8.83 L134.96,9.35 L136.28,9.87 L137.60,10.40 L138.92,10.92 L140.24,11.46 L141.55,11.99 L142.87,12.53 L144.18,13.08 L145.49,13.62 L146.80,14.17 L148.11,14.72 L149.42,15.28 L150.72,15.84 L152.03,16.40 L153.33,16.96 L154.64,17.52 L155.94,18.09 L157.24,18.66 L158.54,19.23 L159.84,19.81 L161.14,20.38 L162.44,20.96 L163.73,21.54 L165.03,22.12 L166.32,22.71 L167.62,23.29 L168.91,23.88 L170.20,24.47 L171.50,25.06 L172.79,25.65 L174.08,26.24 L175.37,26.83 L176.66,27.43 L177.95,28.02 L179.24,28.62 L180.53,29.21 L181.82,29.81 L183.11,30.41 L184.40,31.01 L185.69,31.61 L186.97,32.20 L188.26,32.80 L189.55,33.40 L190.84,34.00 L192.13,34.60 L193.41,35.20 L194.70,35.80 L195.99,36.39 L197.28,36.99 L198.57,37.59 L199.86,38.19 L201.15,38.78 L202.44,39.38 L203.73,39.97 L205.02,40.57 L206.31,41.16 L207.60,41.75 L208.89,42.34 L210.19,42.93 L211.48,43.52 L212.77,44.10 L214.07,44.69 L215.36,45.27 L216.66,45.85 L217.96,46.43 L219.26,47.01 L220.55,47.58 L221.85,48.15 L223.16,48.72 L224.46,49.29 L225.76,49.86 L227.06,50.42 L228.37,50.98 L229.67,51.54 L230.98,52.10 L232.29,52.65 L233.60,53.20 L234.91,53.75 L236.22,54.30 L237.53,54.84 L238.85,55.38 L240.16,55.92 L241.48,56.45 L242.80,56.99 L244.11,57.52 L245.43,58.04 L246.75,58.57 L248.07,59.09 L249.40,59.61 L250.72,60.13 L252.04,60.64 L253.37,61.16 L254.69,61.67 L256.02,62.17 L257.35,62.68 L258.68,63.18 L260.01,63.68 L261.34,64.18 L262.67,64.67 L264.00,65.16 L265.34,65.65 L266.67,66.14 L268.01,66.62 L269.34,67.11 L270.68,67.59 L272.02,68.06 L273.36,68.54 L274.70,69.01 L276.04,69.48 L277.38,69.95 L278.72,70.41 L280.06,70.87 L281.41,71.33 L282.75,71.79 L284.10,72.25 L285.45,72.70 L286.79,73.15 L288.14,73.60 L289.49,74.04 L290.84,74.49 L292.19,74.93 L293.54,75.36 L294.89,75.80 L296.25,76.23 L297.60,76.66 L298.95,77.09 L300.31,77.52 L301.66,77.94 L303.02,78.37 L304.38,78.78 L305.74,79.20 L307.10,79.62 L308.45,80.03 L309.82,80.44 L311.18,80.85 L312.54,81.25 L313.90,81.65 L315.26,82.05 L316.63,82.45 L317.99,82.85 L319.36,83.24 L320.72,83.63 L322.09,84.02 L323.45,84.41 L324.82,84.80 L326.19,85.18 L327.56,85.56 L328.93,85.94 L330.30,86.31 L331.67,86.69 L333.04,87.06 L334.41,87.43 L335.78,87.79 L337.16,88.16 L338.53,88.52 L339.90,88.88 L341.28,89.24 L342.65,89.59 L344.03,89.95 L345.41,90.30 L346.78,90.65 L348.16,91.00 L349.54,91.34 L350.92,91.68 L352.30,92.02 L353.68,92.36 L355.06,92.70 L356.44,93.03 L357.82,93.37 L359.20,93.70 L360.58,94.02 L361.96,94.35 L363.35,94.67 L364.73,95.00 L366.12,95.31 L367.50,95.63 L368.89,95.95 L370.27,96.26 L371.66,96.57 L373.04,96.88 L374.43,97.19 L375.82,97.49 L377.21,97.80 L378.59,98.10 L379.98,98.40 L381.37,98.69 L382.76,98.99 L384.15,99.28 L385.54,99.57 L386.93,99.86 L388.32,100.15 L389.72,100.43 L391.11,100.72 L392.50,101.00" stroke="#000" stroke-dasharray="13.4 5.80" stroke-dashoffset="-0.8" /><path d="M50.70,266.00 L50.85,266.66 L51.00,267.31 L51.15,267.97 L51.30,268.62 L51.45,269.28 L51.61,269.93 L51.76,270.59 L51.92,271.24 L52.07,271.89 L52.23,272.55 L52.39,273.20 L52.55,273.85 L52.71,274.51 L52.87,275.16 L53.03,275.81 L53.20,276.46 L53.36,277.12 L53.53,277.77 L53.70,278.42 L53.87,279.07 L54.04,279.72 L54.22,280.37 L54.39,281.02 L54.57,281.67 L54.74,282.31 L54.92,282.96 L55.10,283.61 L55.29,284.26 L55.47,284.90 L55.66,285.55 L55.85,286.20 L56.04,286.84 L56.23,287.48 L56.42,288.13 L56.62,288.77 L56.82,289.41 L57.02,290.06 L57.22,290.70 L57.42,291.34 L57.63,291.98 L57.84,292.62 L58.05,293.26 L58.26,293.89 L58.47,294.53 L58.69,295.17 L58.91,295.80 L59.13,296.44 L59.36,297.07 L59.58,297.71 L59.81,298.34 L60.05,298.97 L60.28,299.60 L60.52,300.23 L60.76,300.86 L61.00,301.48 L61.25,302.11 L61.49,302.73 L61.74,303.36 L62.00,303.98 L62.26,304.60 L62.51,305.22 L62.78,305.84 L63.04,306.46 L63.31,307.08 L63.58,307.69 L63.86,308.30 L64.14,308.92 L64.42,309.53 L64.70,310.14 L64.99,310.74 L65.28,311.35 L65.58,311.95 L65.87,312.56 L66.17,313.16 L66.48,313.76 L66.79,314.35 L67.10,314.95 L67.42,315.54 L67.73,316.14 L68.06,316.73 L68.38,317.31 L68.71,317.90 L69.05,318.48 L69.39,319.06 L69.73,319.64 L70.07,320.22 L70.42,320.79 L70.78,321.37 L71.14,321.94 L71.50,322.50 L71.86,323.07 L72.23,323.63 L72.61,324.19 L72.99,324.74 L73.37,325.30 L73.75,325.85 L74.15,326.39 L74.54,326.94 L74.94,327.48 L75.34,328.01 L75.75,328.55 L76.16,329.08 L76.58,329.61 L77.00,330.13 L77.43,330.65 L77.86,331.17 L78.29,331.68 L78.73,332.19 L79.18,332.70 L79.62,333.20 L80.07,333.70 L80.53,334.19 L80.99,334.68 L81.45,335.17 L81.92,335.65 L82.39,336.13 L82.87,336.61 L83.35,337.08 L83.83,337.55 L84.32,338.01 L84.81,338.47 L85.30,338.93 L85.80,339.38 L86.30,339.82 L86.81,340.27 L87.32,340.71 L87.83,341.14 L88.34,341.58 L88.86,342.01 L89.38,342.43 L89.91,342.85 L90.44,343.27 L90.97,343.68 L91.50,344.09 L92.04,344.49 L92.58,344.89 L93.12,345.29 L93.67,345.68 L94.22,346.07 L94.77,346.45 L95.32,346.83 L95.88,347.21 L96.44,347.58 L97.01,347.95 L97.57,348.31 L98.14,348.67 L98.71,349.03 L99.28,349.38 L99.86,349.73 L100.43,350.07 L101.02,350.41 L101.60,350.75 L102.18,351.08 L102.77,351.41 L103.36,351.73 L103.95,352.05 L104.54,352.37 L105.14,352.68 L105.74,352.98 L106.34,353.29 L106.94,353.59 L107.54,353.88 L108.15,354.18 L108.76,354.46 L109.37,354.75 L109.98,355.03 L110.59,355.30 L111.21,355.57 L111.82,355.84 L112.44,356.10 L113.06,356.36 L113.68,356.62 L114.31,356.87 L114.93,357.12 L115.56,357.36 L116.19,357.60 L116.82,357.84 L117.45,358.07 L118.08,358.30 L118.72,358.52 L119.35,358.74 L119.99,358.95 L120.63,359.17 L121.27,359.37 L121.91,359.58 L122.55,359.78 L123.19,359.97 L123.84,360.16 L124.48,360.35 L125.13,360.53 L125.78,360.71 L126.43,360.89 L127.08,361.06 L127.73,361.22 L128.38,361.39 L129.04,361.55 L129.69,361.70 L130.34,361.85 L131.00,362.00" stroke="#000" stroke-dasharray="13.4 5.80" stroke-dashoffset="-3" /></g><path d="M50.45,362.55v-8.7M50.45,6.3v8.7M57.30,362.55v-4.2M57.30,6.3v4.2M64.14,362.55v-4.2M64.14,6.3v4.2M70.99,362.55v-4.2M70.99,6.3v4.2M77.84,362.55v-4.2M77.84,6.3v4.2M84.69,362.55v-4.2M84.69,6.3v4.2M91.53,362.55v-4.2M91.53,6.3v4.2M98.38,362.55v-4.2M98.38,6.3v4.2M105.23,362.55v-4.2M105.23,6.3v4.2M112.07,362.55v-4.2M112.07,6.3v4.2M118.92,362.55v-8.7M118.92,6.3v8.7M125.77,362.55v-4.2M125.77,6.3v4.2M132.61,362.55v-4.2M132.61,6.3v4.2M139.46,362.55v-4.2M139.46,6.3v4.2M146.31,362.55v-4.2M146.31,6.3v4.2M153.16,362.55v-4.2M153.16,6.3v4.2M160.00,362.55v-4.2M160.00,6.3v4.2M166.85,362.55v-4.2M166.85,6.3v4.2M173.70,362.55v-4.2M173.70,6.3v4.2M180.54,362.55v-4.2M180.54,6.3v4.2M187.39,362.55v-8.7M187.39,6.3v8.7M194.24,362.55v-4.2M194.24,6.3v4.2M201.08,362.55v-4.2M201.08,6.3v4.2M207.93,362.55v-4.2M207.93,6.3v4.2M214.78,362.55v-4.2M214.78,6.3v4.2M221.62,362.55v-4.2M221.62,6.3v4.2M228.47,362.55v-4.2M228.47,6.3v4.2M235.32,362.55v-4.2M235.32,6.3v4.2M242.17,362.55v-4.2M242.17,6.3v4.2M249.01,362.55v-4.2M249.01,6.3v4.2M255.86,362.55v-8.7M255.86,6.3v8.7M262.71,362.55v-4.2M262.71,6.3v4.2M269.55,362.55v-4.2M269.55,6.3v4.2M276.40,362.55v-4.2M276.40,6.3v4.2M283.25,362.55v-4.2M283.25,6.3v4.2M290.10,362.55v-4.2M290.10,6.3v4.2M296.94,362.55v-4.2M296.94,6.3v4.2M303.79,362.55v-4.2M303.79,6.3v4.2M310.64,362.55v-4.2M310.64,6.3v4.2M317.48,362.55v-4.2M317.48,6.3v4.2M324.33,362.55v-8.7M324.33,6.3v8.7M331.18,362.55v-4.2M331.18,6.3v4.2M338.02,362.55v-4.2M338.02,6.3v4.2M344.87,362.55v-4.2M344.87,6.3v4.2M351.72,362.55v-4.2M351.72,6.3v4.2M358.56,362.55v-4.2M358.56,6.3v4.2M365.41,362.55v-4.2M365.41,6.3v4.2M372.26,362.55v-4.2M372.26,6.3v4.2M379.11,362.55v-4.2M379.11,6.3v4.2M385.95,362.55v-4.2M385.95,6.3v4.2M392.80,362.55v-8.7M392.80,6.3v8.7M50.45,362.55h8.7M392.8,362.55h-8.7M50.45,358.10h4.2M392.8,358.10h-4.2M50.45,353.64h4.2M392.8,353.64h-4.2M50.45,349.19h4.2M392.8,349.19h-4.2M50.45,344.74h4.2M392.8,344.74h-4.2M50.45,340.28h4.2M392.8,340.28h-4.2M50.45,335.83h4.2M392.8,335.83h-4.2M50.45,331.38h4.2M392.8,331.38h-4.2M50.45,326.93h4.2M392.8,326.93h-4.2M50.45,322.47h4.2M392.8,322.47h-4.2M50.45,318.02h4.2M392.8,318.02h-4.2M50.45,313.57h4.2M392.8,313.57h-4.2M50.45,309.11h4.2M392.8,309.11h-4.2M50.45,304.66h4.2M392.8,304.66h-4.2M50.45,300.21h4.2M392.8,300.21h-4.2M50.45,295.75h4.2M392.8,295.75h-4.2M50.45,291.30h4.2M392.8,291.30h-4.2M50.45,286.85h4.2M392.8,286.85h-4.2M50.45,282.39h4.2M392.8,282.39h-4.2M50.45,277.94h4.2M392.8,277.94h-4.2M50.45,273.49h8.7M392.8,273.49h-8.7M50.45,269.03h4.2M392.8,269.03h-4.2M50.45,264.58h4.2M392.8,264.58h-4.2M50.45,260.13h4.2M392.8,260.13h-4.2M50.45,255.68h4.2M392.8,255.68h-4.2M50.45,251.22h4.2M392.8,251.22h-4.2M50.45,246.77h4.2M392.8,246.77h-4.2M50.45,242.32h4.2M392.8,242.32h-4.2M50.45,237.86h4.2M392.8,237.86h-4.2M50.45,233.41h4.2M392.8,233.41h-4.2M50.45,228.96h4.2M392.8,228.96h-4.2M50.45,224.50h4.2M392.8,224.50h-4.2M50.45,220.05h4.2M392.8,220.05h-4.2M50.45,215.60h4.2M392.8,215.60h-4.2M50.45,211.14h4.2M392.8,211.14h-4.2M50.45,206.69h4.2M392.8,206.69h-4.2M50.45,202.24h4.2M392.8,202.24h-4.2M50.45,197.78h4.2M392.8,197.78h-4.2M50.45,193.33h4.2M392.8,193.33h-4.2M50.45,188.88h4.2M392.8,188.88h-4.2M50.45,184.43h8.7M392.8,184.43h-8.7M50.45,179.97h4.2M392.8,179.97h-4.2M50.45,175.52h4.2M392.8,175.52h-4.2M50.45,171.07h4.2M392.8,171.07h-4.2M50.45,166.61h4.2M392.8,166.61h-4.2M50.45,162.16h4.2M392.8,162.16h-4.2M50.45,157.71h4.2M392.8,157.71h-4.2M50.45,153.25h4.2M392.8,153.25h-4.2M50.45,148.80h4.2M392.8,148.80h-4.2M50.45,144.35h4.2M392.8,144.35h-4.2M50.45,139.89h4.2M392.8,139.89h-4.2M50.45,135.44h4.2M392.8,135.44h-4.2M50.45,130.99h4.2M392.8,130.99h-4.2M50.45,126.53h4.2M392.8,126.53h-4.2M50.45,122.08h4.2M392.8,122.08h-4.2M50.45,117.63h4.2M392.8,117.63h-4.2M50.45,113.18h4.2M392.8,113.18h-4.2M50.45,108.72h4.2M392.8,108.72h-4.2M50.45,104.27h4.2M392.8,104.27h-4.2M50.45,99.82h4.2M392.8,99.82h-4.2M50.45,95.36h8.7M392.8,95.36h-8.7M50.45,90.91h4.2M392.8,90.91h-4.2M50.45,86.46h4.2M392.8,86.46h-4.2M50.45,82.00h4.2M392.8,82.00h-4.2M50.45,77.55h4.2M392.8,77.55h-4.2M50.45,73.10h4.2M392.8,73.10h-4.2M50.45,68.64h4.2M392.8,68.64h-4.2M50.45,64.19h4.2M392.8,64.19h-4.2M50.45,59.74h4.2M392.8,59.74h-4.2M50.45,55.28h4.2M392.8,55.28h-4.2M50.45,50.83h4.2M392.8,50.83h-4.2M50.45,46.38h4.2M392.8,46.38h-4.2M50.45,41.93h4.2M392.8,41.93h-4.2M50.45,37.47h4.2M392.8,37.47h-4.2M50.45,33.02h4.2M392.8,33.02h-4.2M50.45,28.57h4.2M392.8,28.57h-4.2M50.45,24.11h4.2M392.8,24.11h-4.2M50.45,19.66h4.2M392.8,19.66h-4.2M50.45,15.21h4.2M392.8,15.21h-4.2M50.45,10.75h4.2M392.8,10.75h-4.2M50.45,6.30h8.7M392.8,6.30h-8.7" stroke="#000" stroke-width="0.85" fill="none"/><rect x="50.45" y="6.3" width="342.35" height="356.25" fill="none" stroke="#000" stroke-width="1.6"/><rect x="259" y="11.5" width="124.5" height="101.3" fill="#fff" stroke="none"/><path d="M258.5,11.5H384M383.5,11.5V113.3" stroke="#000" stroke-width="1.2" fill="none"/><path d="M259,11.5V113.2M258.6,112.8H384" stroke="#000" stroke-width="0.85" fill="none"/><path d="M263.9,24.15h17" stroke="#f00" stroke-width="1.7"/><text x="289.5" y="24.6" font-family="&quot;Liberation Serif&quot;, serif" font-size="13.2" textLength="9.6" lengthAdjust="spacingAndGlyphs">m</text><text x="299.8" y="30.400000000000002" font-family="&quot;Liberation Serif&quot;, serif" font-size="9.4">eμ</text><text x="313.3" y="24.6" font-family="&quot;Liberation Serif&quot;, serif" font-size="13.3">=</text><text x="323.6" y="24.6" font-family="&quot;Liberation Serif&quot;, serif" font-size="13.3">0</text><path d="M263.9,44.05h13.4" stroke="#00f" stroke-width="2"/><text x="289.5" y="45.95" font-family="&quot;Liberation Serif&quot;, serif" font-size="13.2" textLength="9.6" lengthAdjust="spacingAndGlyphs">m</text><text x="299.8" y="51.75" font-family="&quot;Liberation Serif&quot;, serif" font-size="9.4">eμ</text><text x="313.3" y="45.95" font-family="&quot;Liberation Serif&quot;, serif" font-size="13.3">&lt;</text><text x="323.6" y="45.95" font-family="&quot;Liberation Serif&quot;, serif" font-size="13.3">0.0001</text><text x="363.7" y="45.95" font-family="&quot;Liberation Serif&quot;, serif" font-size="13.3">eV</text><path d="M263.9,63.05h13.4" stroke="#ffa500" stroke-width="2"/><text x="289.5" y="64.95" font-family="&quot;Liberation Serif&quot;, serif" font-size="13.2" textLength="9.6" lengthAdjust="spacingAndGlyphs">m</text><text x="299.8" y="70.75" font-family="&quot;Liberation Serif&quot;, serif" font-size="9.4">eμ</text><text x="313.3" y="64.95" font-family="&quot;Liberation Serif&quot;, serif" font-size="13.3">&lt;</text><text x="323.6" y="64.95" font-family="&quot;Liberation Serif&quot;, serif" font-size="13.3">0.0005</text><text x="363.7" y="64.95" font-family="&quot;Liberation Serif&quot;, serif" font-size="13.3">eV</text><path d="M263.9,82.05h13.4" stroke="#0f0" stroke-width="2"/><text x="289.5" y="83.95" font-family="&quot;Liberation Serif&quot;, serif" font-size="13.2" textLength="9.6" lengthAdjust="spacingAndGlyphs">m</text><text x="299.8" y="89.75" font-family="&quot;Liberation Serif&quot;, serif" font-size="9.4">eμ</text><text x="313.3" y="83.95" font-family="&quot;Liberation Serif&quot;, serif" font-size="13.3">&lt;</text><text x="323.6" y="83.95" font-family="&quot;Liberation Serif&quot;, serif" font-size="13.3">0.001</text><text x="357.1" y="83.95" font-family="&quot;Liberation Serif&quot;, serif" font-size="13.3">eV</text><path d="M263.9,101.05h13.4" stroke="#000" stroke-width="2"/><text x="289.5" y="102.95" font-family="&quot;Liberation Serif&quot;, serif" font-size="13.2" textLength="9.6" lengthAdjust="spacingAndGlyphs">m</text><text x="299.8" y="108.75" font-family="&quot;Liberation Serif&quot;, serif" font-size="9.4">eμ</text><text x="313.3" y="102.95" font-family="&quot;Liberation Serif&quot;, serif" font-size="13.3">&lt;</text><text x="323.6" y="102.95" font-family="&quot;Liberation Serif&quot;, serif" font-size="13.3">0.005</text><text x="357.1" y="102.95" font-family="&quot;Liberation Serif&quot;, serif" font-size="13.3">eV</text><text x="50.45" y="377.8" font-family="&quot;Liberation Serif&quot;, serif" font-size="16" text-anchor="middle">0</text><text x="118.92" y="377.8" font-family="&quot;Liberation Serif&quot;, serif" font-size="16" text-anchor="middle">0.01</text><text x="187.39" y="377.8" font-family="&quot;Liberation Serif&quot;, serif" font-size="16" text-anchor="middle">0.02</text><text x="255.86" y="377.8" font-family="&quot;Liberation Serif&quot;, serif" font-size="16" text-anchor="middle">0.03</text><text x="324.33" y="377.8" font-family="&quot;Liberation Serif&quot;, serif" font-size="16" text-anchor="middle">0.04</text><text x="392.80" y="377.8" font-family="&quot;Liberation Serif&quot;, serif" font-size="16" text-anchor="middle">0.05</text><text x="47.0" y="367.90" font-family="&quot;Liberation Serif&quot;, serif" font-size="16" text-anchor="end">0</text><text x="47.0" y="278.84" font-family="&quot;Liberation Serif&quot;, serif" font-size="16" text-anchor="end">0.25</text><text x="47.0" y="189.78" font-family="&quot;Liberation Serif&quot;, serif" font-size="16" text-anchor="end">0.5</text><text x="47.0" y="100.71" font-family="&quot;Liberation Serif&quot;, serif" font-size="16" text-anchor="end">0.75</text><text x="47.0" y="11.65" font-family="&quot;Liberation Serif&quot;, serif" font-size="16" text-anchor="end">1</text><g transform="translate(204.3,403.9)"><text font-family="&quot;Liberation Serif&quot;, serif" font-size="20.5" x="0" y="0">Sin</text><text font-family="&quot;Liberation Serif&quot;, serif" font-size="14" x="27.2" y="-11.7">2</text><text font-family="&quot;Liberation Serif&quot;, serif" font-size="20.5" x="34.5" y="0">θ</text><text font-family="&quot;Liberation Serif&quot;, serif" font-size="14" x="44.0" y="6.9" textLength="12.4" lengthAdjust="spacingAndGlyphs">13</text></g><g transform="translate(23.5,214.3) rotate(-90)"><text font-family="&quot;Liberation Serif&quot;, serif" font-size="20.5" x="0" y="0">Sin</text><text font-family="&quot;Liberation Serif&quot;, serif" font-size="14" x="27.2" y="-11.7">2</text><text font-family="&quot;Liberation Serif&quot;, serif" font-size="20.5" x="34.5" y="0">θ</text><text font-family="&quot;Liberation Serif&quot;, serif" font-size="14" x="44.0" y="8.2" textLength="14" lengthAdjust="spacingAndGlyphs">23</text></g></svg></body></html>
